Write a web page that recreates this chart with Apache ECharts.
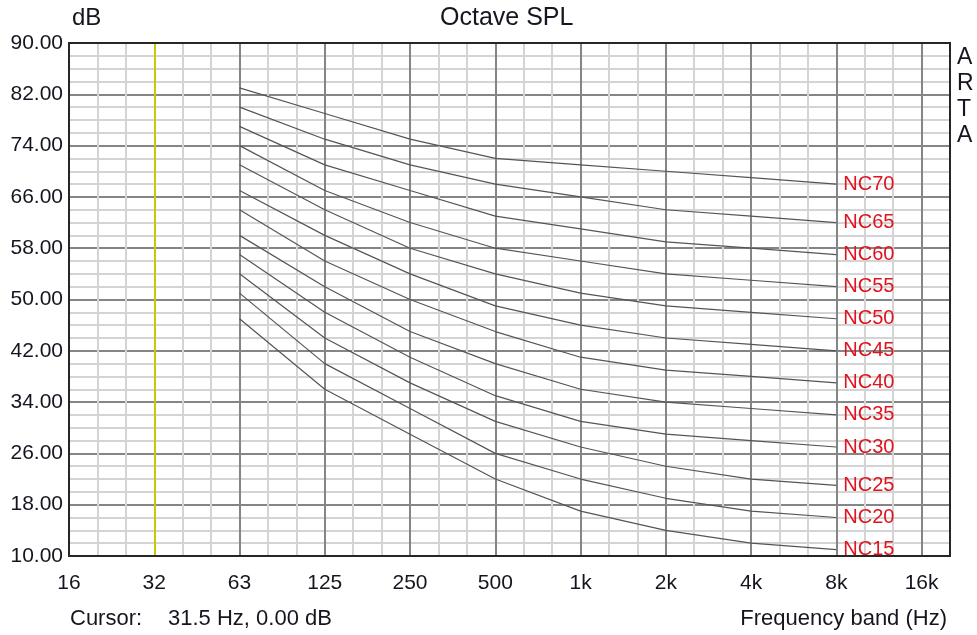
<!DOCTYPE html>
<html style="height: 100%">
<head>
    <meta charset="utf-8">
    <script src="https://cdn.jsdelivr.net/npm/echarts@6/dist/echarts.min.js"></script>
</head>
<body style="margin:0; height:100%; background-color:#fff">
    <div id="container" style="width:977px; height:635px"></div>
    <script type="text/javascript">
        // octave band labels, index 0 = 16 Hz
        var bandLabels = ['16', '32', '63', '125', '250', '500', '1k', '2k', '4k', '8k', '16k'];
        // NC curves are given at 63 Hz .. 8 kHz (band index 2..9)
        var ncBands = [2, 3, 4, 5, 6, 7, 8, 9];
        var ncNames = ['NC15', 'NC20', 'NC25', 'NC30', 'NC35', 'NC40', 'NC45', 'NC50', 'NC55', 'NC60', 'NC65', 'NC70'];
        var ncValues = [
            [47, 36, 29, 22, 17, 14, 12, 11],
            [51, 40, 33, 26, 22, 19, 17, 16],
            [54, 44, 37, 31, 27, 24, 22, 21],
            [57, 48, 41, 35, 31, 29, 28, 27],
            [60, 52, 45, 40, 36, 34, 33, 32],
            [64, 56, 50, 45, 41, 39, 38, 37],
            [67, 60, 54, 49, 46, 44, 43, 42],
            [71, 64, 58, 54, 51, 49, 48, 47],
            [74, 67, 62, 58, 56, 54, 53, 52],
            [77, 71, 67, 63, 61, 59, 58, 57],
            [80, 75, 71, 68, 66, 64, 63, 62],
            [83, 79, 75, 72, 71, 70, 69, 68]
        ];
        var cursorBand = 1;   // 31.5 Hz
        var yMin = 10, yMax = 90, yStep = 8;

        var font = 'Liberation Sans, Arial, sans-serif';
        var txtColor = '#151520';
        var gLeft = 69, gTop = 43, gWidth = 881, gHeight = 513;

        var dom = document.getElementById("container");
        var myChart = echarts.init(dom);

        var series = [];
        for (var i = 0; i < ncNames.length; i++) {
            var pts = [];
            for (var j = 0; j < ncBands.length; j++) {
                pts.push([ncBands[j], ncValues[i][j]]);
            }
            series.push({
                name: ncNames[i],
                type: 'line',
                data: pts,
                symbol: 'none',
                silent: true,
                lineStyle: { color: '#555', width: 1.2 },
                endLabel: {
                    show: true,
                    formatter: '{a}',
                    color: '#e0141e',
                    fontFamily: font,
                    fontSize: 20,
                    distance: 7
                }
            });
        }
        // cursor line
        series.push({
            type: 'line',
            data: [],
            markLine: {
                silent: true,
                symbol: 'none',
                label: { show: false },
                lineStyle: { color: '#c8c80a', width: 2, type: 'solid' },
                data: [{ xAxis: cursorBand }]
            }
        });

        var option = {
            animation: false,
            backgroundColor: '#fff',
            grid: { left: gLeft, top: gTop, width: gWidth, height: gHeight, containLabel: false },
            xAxis: {
                type: 'value',
                min: 0,
                max: 31 / 3,
                interval: 1,
                axisLine: { show: false },
                axisTick: { show: false },
                axisLabel: {
                    margin: 17,
                    showMaxLabel: false,
                    color: txtColor,
                    fontFamily: font,
                    fontSize: 21,
                    formatter: function (v) {
                        return bandLabels[Math.round(v)] || '';
                    }
                },
                splitLine: { show: true, lineStyle: { color: '#858585', width: 2 } },
                minorTick: { show: false, splitNumber: 3 },
                minorSplitLine: { show: true, lineStyle: { color: '#d4d4d4', width: 2 } }
            },
            yAxis: {
                type: 'value',
                min: yMin,
                max: yMax,
                interval: yStep,
                axisLine: { show: false },
                axisTick: { show: false },
                axisLabel: {
                    margin: 6,
                    color: txtColor,
                    fontFamily: font,
                    fontSize: 21,
                    formatter: function (v) { return v.toFixed(2); }
                },
                splitLine: { show: true, lineStyle: { color: '#858585', width: 2 } },
                minorTick: { show: false, splitNumber: 4 },
                minorSplitLine: { show: true, lineStyle: { color: '#d4d4d4', width: 2 } }
            },
            graphic: [
                {
                    type: 'rect', z: 100, silent: true,
                    shape: { x: gLeft, y: gTop, width: gWidth, height: gHeight },
                    style: { fill: 'none', stroke: '#262626', lineWidth: 2 }
                },
                {
                    type: 'rect', z: 90, silent: true,
                    shape: { x: 830, y: 557, width: 80, height: 12 },
                    style: { fill: '#fff' }
                },
                {
                    type: 'text', left: 72, top: 6,
                    style: { text: 'dB', fill: txtColor, font: '24px ' + font }
                },
                {
                    type: 'text', left: 440, top: 6,
                    style: { text: 'Octave SPL', fill: txtColor, font: '25px ' + font }
                },
                {
                    type: 'text', left: 957, top: 45,
                    style: { text: 'A\nR\nT\nA', fill: txtColor, font: '23px ' + font, lineHeight: 26 }
                },
                {
                    type: 'text', left: 70, top: 608,
                    style: { text: 'Cursor:', fill: txtColor, font: '22px ' + font }
                },
                {
                    type: 'text', left: 168, top: 608,
                    style: { text: '31.5 Hz, 0.00 dB', fill: txtColor, font: '22px ' + font }
                },
                {
                    type: 'text', right: 30, top: 608,
                    style: { text: 'Frequency band (Hz)', fill: txtColor, font: '22px ' + font }
                }
            ],
            series: series
        };
        myChart.setOption(option);
    </script>
</body>
</html>
